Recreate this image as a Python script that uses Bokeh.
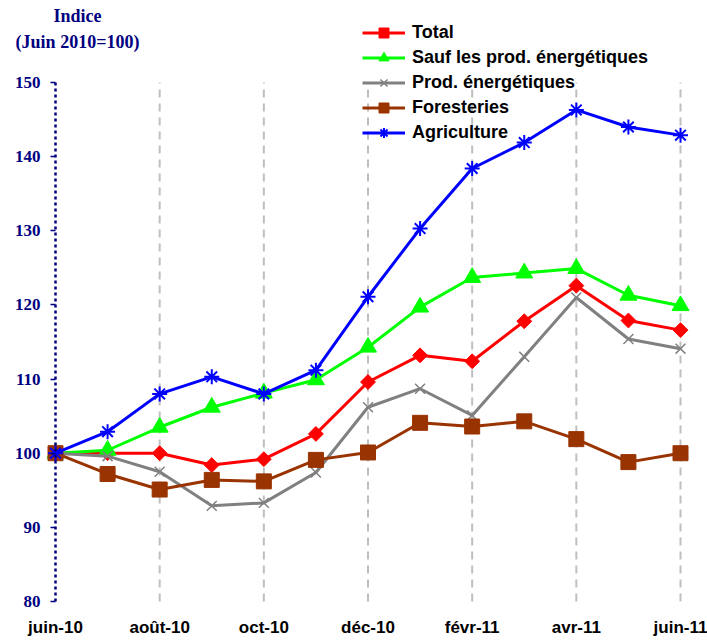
import numpy as np
from bokeh.plotting import figure
from bokeh.models import (Range1d, FixedTicker, Legend, LegendItem, Label, ColumnDataSource)
from bokeh.embed import file_html
from bokeh.resources import INLINE

# ---- data ----
months = ["juin-10", "juil-10", "août-10", "sept-10", "oct-10", "nov-10", "déc-10",
          "janv-11", "févr-11", "mars-11", "avr-11", "mai-11", "juin-11"]
tick_months = [0, 2, 4, 6, 8, 10, 12]
y_ticks = [80, 90, 100, 110, 120, 130, 140, 150]

total = [100, 100, 100, 98.4, 99.2, 102.6, 109.6, 113.2, 112.4, 117.8, 122.6, 117.9, 116.6]
sauf_energ = [100, 100.4, 103.5, 106.2, 108.1, 109.9, 114.3, 119.7, 123.7, 124.3, 124.9, 121.3, 119.9]
energ = [100, 99.6, 97.5, 92.9, 93.3, 97.4, 106.2, 108.7, 105.1, 113.0, 121.0, 115.4, 114.1]
forest = [100, 97.2, 95.1, 96.4, 96.2, 99.1, 100.1, 104.1, 103.6, 104.3, 101.9, 98.8, 100.0]
agri = [100, 102.9, 108.0, 110.3, 108.0, 111.2, 121.1, 130.3, 138.4, 141.9, 146.3, 144.0, 142.9]

series_names = ["Total", "Sauf les prod. énergétiques", "Prod. énergétiques", "Foresteries", "Agriculture"]

NAVY = "#000080"

# layout: axis at 55px from left, 80..150 spans 82px..601px;
# the frame covers the whole canvas above the x labels so legend/title/axis labels are not clipped
W, H = 707, 640
axis_px, y80_px, y150_px, frame_bottom_px = 55.0, 601.0, 82.0, 612.0
x_px_per_unit = 625.0 / 12
y_min, y_max = y_ticks[0], y_ticks[-1]
y_px_per_unit = (y80_px - y150_px) / (y_max - y_min)
x_start = -axis_px / x_px_per_unit
x_end = x_start + W / x_px_per_unit
y_start = y_min - (frame_bottom_px - y80_px) / y_px_per_unit
y_top = y_max + y150_px / y_px_per_unit

p = figure(width=W, height=H, output_backend="svg", toolbar_location=None,
           x_range=Range1d(x_start, x_end), y_range=Range1d(y_start, y_top),
           min_border_left=0, min_border_right=0, min_border_top=0,
           min_border_bottom=int(H - frame_bottom_px))
p.outline_line_color = None
p.background_fill_color = "white"
p.border_fill_color = "white"

# axes
p.yaxis.fixed_location = 0
p.yaxis.ticker = FixedTicker(ticks=y_ticks)
p.yaxis.bounds = (y_min, y_max)
p.yaxis.axis_line_color = NAVY
p.yaxis.axis_line_width = 2.5
p.yaxis.axis_line_dash = "3 3"
p.yaxis.major_tick_line_color = NAVY
p.yaxis.major_tick_line_width = 1.5
p.yaxis.major_tick_out = 5
p.yaxis.major_tick_in = 0
p.yaxis.minor_tick_line_color = None
p.yaxis.major_label_text_font = "Liberation Serif"
p.yaxis.major_label_text_font_style = "bold"
p.yaxis.major_label_text_font_size = "17px"
p.yaxis.major_label_text_color = NAVY
p.yaxis.major_label_standoff = 10

p.xaxis.ticker = FixedTicker(ticks=tick_months)
p.xaxis.major_label_overrides = {i: months[i] for i in tick_months}
p.xaxis.axis_line_color = None
p.xaxis.major_tick_line_color = None
p.xaxis.major_tick_out = 0
p.xaxis.major_tick_in = 0
p.xaxis.minor_tick_line_color = None
p.xaxis.minor_tick_out = 0
p.xaxis.major_label_text_font = "Liberation Sans"
p.xaxis.major_label_text_font_style = "bold"
p.xaxis.major_label_text_font_size = "17px"
p.xaxis.major_label_text_color = "black"
p.xaxis.major_label_standoff = 5

p.ygrid.grid_line_color = None
p.xgrid.grid_line_color = None

# vertical dashed grid lines between 80 and 150 at the labelled months
grid_x = tick_months[1:]
p.segment(x0=grid_x, x1=grid_x, y0=[y_min] * len(grid_x), y1=[y_max] * len(grid_x),
          line_color="#BFBFBF", line_width=2, line_dash="8 6")

x = list(range(len(months)))
items = []

def add_series(vals, name, color, marker, size, lw_marker=1, fill=True, angle=0.0):
    src = ColumnDataSource(dict(x=x, y=vals))
    lr = p.line("x", "y", source=src, line_color=color, line_width=3)
    sr = p.scatter("x", "y", source=src, marker=marker, size=size, angle=angle,
                   line_color=color, line_width=lw_marker,
                   fill_color=color if fill else None)
    items.append(LegendItem(label=name, renderers=[lr, sr]))

add_series(total, series_names[0], "#FF0000", "square", 10.5, angle=np.pi / 4)
add_series(sauf_energ, series_names[1], "#00FF00", "triangle", 17)
add_series(energ, series_names[2], "#808080", "x", 14, lw_marker=1.5, fill=False)
add_series(forest, series_names[3], "#993300", "square", 15)
add_series(agri, series_names[4], "#0000FF", "asterisk", 15, lw_marker=2, fill=False)

legend = Legend(items=items, location=(362, int(frame_bottom_px - 145)), padding=0, spacing=0,
                glyph_width=43, glyph_height=25, label_height=25, label_standoff=7,
                label_text_font="Liberation Sans", label_text_font_style="bold",
                label_text_font_size="18px", label_text_color="black",
                border_line_color=None, background_fill_alpha=0)
p.add_layout(legend, "center")

# title-like annotation above the axis
p.add_layout(Label(x=77, y=frame_bottom_px - 15, x_units="screen", y_units="screen", text="Indice",
                   text_align="center", text_baseline="middle", text_font="Liberation Serif",
                   text_font_style="bold", text_font_size="18px", text_color=NAVY))
p.add_layout(Label(x=77, y=frame_bottom_px - 41, x_units="screen", y_units="screen",
                   text="(Juin 2010=100)",
                   text_align="center", text_baseline="middle", text_font="Liberation Serif",
                   text_font_style="bold", text_font_size="18px", text_color=NAVY))

open("out.html", "w").write(file_html(p, INLINE))
